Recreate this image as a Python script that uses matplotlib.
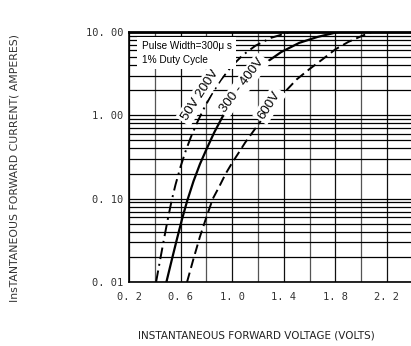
import numpy as np
import matplotlib
matplotlib.use("Agg")
import matplotlib.pyplot as plt
from matplotlib.ticker import FixedLocator, NullFormatter

# ==========================================
# Data
# ==========================================

# 50V - 200V (dash-dot)
v_50_200 = [0.41, 0.44, 0.47, 0.50, 0.53, 0.56, 0.60, 0.64, 0.68, 0.73, 0.78, 0.84,
            0.91, 0.99, 1.08, 1.18, 1.30, 1.45]
i_50_200 = [0.010, 0.018, 0.032, 0.056, 0.094, 0.146, 0.243, 0.376, 0.55, 0.83, 1.20, 1.78,
            2.63, 3.8, 5.25, 6.84, 8.5, 10.0]

# 300 - 400V (solid)
v_300_400 = [0.49, 0.53, 0.57, 0.61, 0.65, 0.70, 0.75, 0.80, 0.86, 0.92, 0.99, 1.07,
             1.16, 1.26, 1.38, 1.52, 1.66, 1.82]
i_300_400 = [0.010, 0.018, 0.032, 0.056, 0.093, 0.162, 0.26, 0.39, 0.62, 0.93, 1.45, 2.14,
             3.09, 4.27, 5.75, 7.41, 8.71, 10.0]

# 600V (dashed)
v_600 = [0.65, 0.70, 0.75, 0.80, 0.85, 0.90, 0.95, 1.00, 1.05, 1.10, 1.20, 1.30,
         1.40, 1.50, 1.60, 1.70, 1.80, 1.90, 2.00, 2.08]
i_600 = [0.010, 0.019, 0.035, 0.060, 0.10, 0.14, 0.20, 0.27, 0.355, 0.47, 0.77, 1.25,
         1.85, 2.7, 3.6, 4.7, 6.2, 7.6, 8.9, 10.0]

x_ticks = [0.2, 0.6, 1.0, 1.4, 1.8, 2.2]
x_ticklabels = ["0. 2", "0. 6", "1. 0", "1. 4", "1. 8", "2. 2"]
y_ticks = [0.01, 0.1, 1.0, 10.0]
y_ticklabels = ["0. 01", "0. 10", "1. 00", "10. 00"]

W, H = 411, 346
fig = plt.figure(figsize=(W / 100, H / 100), dpi=100)
ax = fig.add_axes([129 / W, 1 - 282 / H, 1 - 129 / W, (282 - 32) / H])

ax.set_yscale("log")
ax.set_xlim(0.2, 0.2 + (W - 129) / 129)
ax.set_ylim(0.01, 10)

# grid
ax.xaxis.set_major_locator(FixedLocator(x_ticks))
ax.xaxis.set_minor_locator(FixedLocator(np.arange(0.4, 2.5, 0.4)))
ax.set_xticklabels(x_ticklabels)
ax.yaxis.set_major_locator(FixedLocator(y_ticks))
ax.yaxis.set_minor_locator(FixedLocator([m * d for d in [0.01, 0.1, 1.0] for m in range(2, 10)]))
ax.yaxis.set_minor_formatter(NullFormatter())
ax.set_yticklabels(y_ticklabels)

ax.grid(True, which="both", axis="y", color="black", linewidth=0.9)
ax.grid(True, which="major", axis="x", color="#111111", linewidth=0.9)
ax.grid(True, which="minor", axis="x", color="#555555", linewidth=0.9)
ax.tick_params(which="both", length=0, colors="#333333", labelsize=7.5)
ax.tick_params(axis="x", pad=7)
ax.tick_params(axis="y", pad=4)
for lab in ax.get_xticklabels() + ax.get_yticklabels():
    lab.set_family("DejaVu Sans Mono")

ax.spines["right"].set_visible(False)
ax.spines["top"].set_linewidth(2)
ax.spines["left"].set_linewidth(1.2)
ax.spines["bottom"].set_linewidth(1.2)

# curves
ax.plot(v_50_200, i_50_200, color="black", lw=1.4, dashes=(6, 2.5, 1, 2.5), zorder=3)
ax.plot(v_300_400, i_300_400, color="black", lw=1.6, zorder=3)
ax.plot(v_600, i_600, color="black", lw=1.4, dashes=(5, 2.5), zorder=3)

# labels on curves
box = dict(facecolor="white", edgecolor="none", pad=2)
ax.text(0.75, 1.75, "50V 200V", rotation=57, ha="center", va="center",
        fontsize=9.5, family="Liberation Sans", bbox=box, zorder=4)
ax.text(1.08, 2.3, "300 - 400V", rotation=53, ha="center", va="center",
        fontsize=9.5, family="Liberation Sans", bbox=box, zorder=4)
ax.text(1.29, 1.33, "600V", rotation=57, ha="center", va="center",
        fontsize=9.5, family="Liberation Sans", bbox=box, zorder=4)

ax.text(0.045, 0.965, "Pulse Width=300\u03bc s\n1% Duty Cycle", transform=ax.transAxes,
        ha="left", va="top", fontsize=7.2, family="Liberation Sans", linespacing=1.5,
        bbox=dict(facecolor="white", edgecolor="none", pad=3), zorder=4)

fig.text(15 / W, 1 - 168 / H, "InsTANTANEOUS FORWARD CURRENT( AMPERES)", rotation=90,
         ha="center", va="center", fontsize=7.8, color="#333333", family="DejaVu Sans")
fig.text(256 / W, 1 - 336 / H, "INSTANTANEOUS FORWARD VOLTAGE (VOLTS)",
         ha="center", va="center", fontsize=7.5, color="#222222", family="DejaVu Sans")

fig.savefig("out.png", dpi=100)
